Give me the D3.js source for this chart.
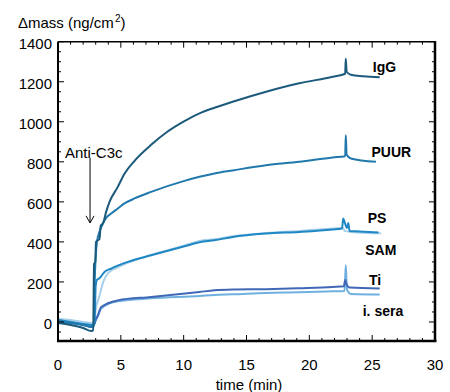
<!DOCTYPE html>
<html><head><meta charset="utf-8">
<script src="https://cdn.jsdelivr.net/npm/d3@7"></script>
<style>body{margin:0;background:#fff}svg{display:block}text{font-family:"Liberation Sans",Arial,sans-serif}</style>
</head><body>
<svg id="c" width="450" height="392"></svg>
<script>
// ---- data (time in min, Δmass in ng/cm²) ----
const xTicks = [0,5,10,15,20,25,30];
const yTicks = [0,200,400,600,800,1000,1200,1400];
const seriesNames = ["IgG","PUUR","PS","SAM","Ti","i. sera"];
const igG = [[0,-5],[1,-15],[2,-30],[2.65,-45],[2.8,-42],[2.87,290],[2.97,300],[3.02,400],[3.3,415],[3.4,480],[3.6,495],[3.83,550],[4.1,600],[4.76,675],[5.29,740],[6.09,805],[7.41,885],[8.7,950],[10.06,1003],[11.26,1042],[12.45,1070],[13.9,1100],[16.56,1150],[19.2,1192],[21.86,1225],[22.85,1240],[22.9,1315],[22.97,1250],[23.3,1235],[24.3,1228],[25.6,1223]];
const puur = [[0,5],[1,-5],[2,-15],[2.7,-25],[2.85,-20],[2.92,200],[3.1,400],[3.3,450],[3.56,490],[3.83,520],[4.23,542],[4.76,567],[5.29,592],[6.09,617],[7.41,650],[10.06,705],[11.26,725],[12.45,742],[13.9,757],[16.56,783],[19.2,800],[21.86,822],[22.85,828],[22.9,933],[22.97,835],[23.3,817],[25.3,800]];
const ps = [[0,10],[1,0],[2,-10],[2.7,-15],[2.9,-10],[3.0,180],[3.1,210],[3.3,218],[3.7,250],[4.23,267],[5.55,300],[7.41,333],[10.06,378],[11.26,398],[12.45,408],[13.9,425],[16.56,442],[19.2,450],[21.86,462],[22.6,467],[22.7,517],[22.8,500],[23.0,470],[23.1,495],[23.2,455],[24,452],[25.5,447]];
const sam = [[0,15],[1,10],[2,0],[2.7,-5],[2.9,0],[3.0,60],[3.3,130],[3.6,200],[4.0,245],[5.0,280],[7.41,335],[10.06,382],[11.26,405],[12.45,413],[13.9,428],[16.56,445],[19.2,455],[21.86,467],[22.7,470],[22.8,455],[23.3,450],[25.7,443]];
const ti = [[0,5],[1,-5],[2,-15],[2.7,-25],[2.9,-10],[3.0,10],[3.17,33],[3.44,75],[4.76,108],[7.41,125],[11.26,150],[12.45,158],[13.9,162],[16.56,164],[19.2,169],[21.86,175],[22.75,178],[22.85,210],[22.95,190],[23.2,172],[25.6,167]];
const isera = [[0,10],[1,0],[2,-10],[2.7,-15],[2.9,-5],[3.0,8],[3.17,28],[3.44,68],[4.76,103],[7.41,118],[11.26,130],[12.45,135],[13.9,138],[16.56,145],[19.2,148],[21.86,153],[22.8,155],[22.9,283],[23.0,160],[23.3,140],[25.6,137]];
const colors = ["#1c5a7c","#2079ac","#1f87c4","#a9cfe9","#4068b6","#6eb0e0"];
const labelAnchor = [[25.05,1249],[24.95,824],[24.65,494],[24.45,335],[24.75,185],[24.25,30]];

// ---- drawing ----
const svg = d3.select("#c");
const x = d3.scaleLinear().domain([0,30]).range([58,435]);
const y = d3.scaleLinear().domain([-95,1400]).range([341,41.7]);
const X0 = x.range()[0], X1 = x.range()[1], Y0 = y.range()[0], Y1 = y.range()[1];

const line = d3.line().x(d => x(d[0])).y(d => y(d[1])).curve(d3.curveMonotoneX);
const allSeries = [igG, puur, ps, sam, ti, isera];
const order = [3,5,4,2,1,0];
order.forEach(i => {
  svg.append("path").datum(allSeries[i]).attr("d", line)
    .attr("fill","none").attr("stroke",colors[i]).attr("stroke-width",2)
    .attr("stroke-linejoin","miter");
});

// frame
const g = svg.append("g");
const minorX = d3.range(0,31,1), minorY = d3.range(-50,1401,50);
minorX.forEach(t => {
  const maj = t % 5 === 0, L = maj ? 6 : 3;
  g.append("line").attr("x1",x(t)).attr("x2",x(t)).attr("y1",Y0).attr("y2",Y0-L).attr("stroke","#000").attr("stroke-width",1);
  g.append("line").attr("x1",x(t)).attr("x2",x(t)).attr("y1",Y1).attr("y2",Y1+L).attr("stroke","#000").attr("stroke-width",1);
});
minorY.forEach(v => {
  const maj = v % 200 === 0, L = maj ? 6 : 3;
  g.append("line").attr("x1",X0).attr("x2",X0+L).attr("y1",y(v)).attr("y2",y(v)).attr("stroke","#000").attr("stroke-width",1);
  g.append("line").attr("x1",X1).attr("x2",X1-L).attr("y1",y(v)).attr("y2",y(v)).attr("stroke","#000").attr("stroke-width",1);
});
g.append("line").attr("x1",X0).attr("x2",X1).attr("y1",Y1).attr("y2",Y1).attr("stroke","#000").attr("stroke-width",1.5);
g.append("line").attr("x1",X0).attr("x2",X0).attr("y1",Y1).attr("y2",Y0).attr("stroke","#000").attr("stroke-width",2);
g.append("line").attr("x1",X0-1).attr("x2",X1+1.5).attr("y1",Y0).attr("y2",Y0).attr("stroke","#000").attr("stroke-width",2.5);
g.append("line").attr("x1",X1).attr("x2",X1).attr("y1",Y1-0.75).attr("y2",Y0).attr("stroke","#000").attr("stroke-width",2.5);

// tick labels
xTicks.forEach(t => svg.append("text").attr("x",x(t)).attr("y",370).attr("text-anchor","middle")
  .attr("font-size",15).text(t));
yTicks.forEach(v => svg.append("text").attr("x",52).attr("y",y(v)+7.5).attr("text-anchor","end")
  .attr("font-size",15).text(v));

// axis titles
const yt = svg.append("text").attr("x",18).attr("y",28).attr("font-size",15);
yt.append("tspan").text("\u0394mass (ng/cm");
yt.append("tspan").attr("font-size",10).attr("dy",-6).attr("dx",1).text("2");
yt.append("tspan").attr("dy",6).text(")");
svg.append("text").attr("x",249).attr("y",390).attr("text-anchor","middle").attr("font-size",15).text("time (min)");

// series labels
seriesNames.forEach((n,i) => svg.append("text").attr("x",x(labelAnchor[i][0])).attr("y",y(labelAnchor[i][1]))
  .attr("font-size",14).attr("font-weight","bold").text(n));

// annotation
const ax = x(2.55);
svg.append("text").attr("x",65).attr("y",158).attr("font-size",15).text("Anti-C3c");
svg.append("line").attr("x1",ax).attr("x2",ax).attr("y1",y(820)).attr("y2",y(495)).attr("stroke","#000").attr("stroke-width",1);
svg.append("path").attr("d",`M${ax-4},${y(495)-7}L${ax},${y(495)}L${ax+4},${y(495)-7}`).attr("fill","none").attr("stroke","#000").attr("stroke-width",1);
</script>
</body></html>
